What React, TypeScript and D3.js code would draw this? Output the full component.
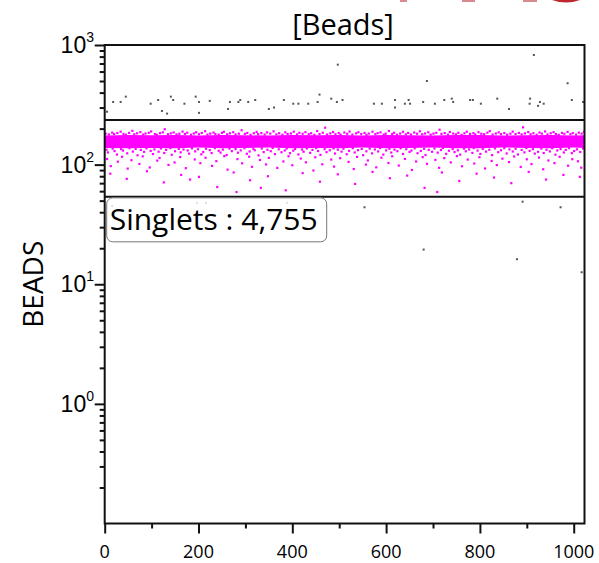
import React, { useEffect, useRef } from "react";
import * as d3 from "d3";

// plot frame in page pixels
const W = 599;
const H = 563;
const frame = { left: 104.7, right: 584.5, top: 45, bottom: 523.5 };

const xMajorTicks = [0, 200, 400, 600, 800, 1000];
const xMinorTicks = [100, 300, 500, 700, 900];
const yDecades = [0.1, 1, 10, 100, 1000];
const yLabelExp = [
  { v: 1, e: "0" },
  { v: 10, e: "1" },
  { v: 100, e: "2" },
  { v: 1000, e: "3" },
];

const title = "[Beads]";
const yTitle = "BEADS";
const gateName = "Singlets : 4,755";
const gateLow = 53.8;
const gateHigh = 236.6;

// dense core of the singlet band (read per x bin)
const coreX = [0, 50, 100, 150, 200, 250, 300, 350, 400, 450, 500, 550, 600, 650, 700, 750, 800, 850, 900, 950, 1000, 1023];
const coreTop = [175, 177, 176, 177, 175, 177, 176, 175, 177, 176, 177, 175, 177, 176, 175, 177, 177, 175, 176, 177, 175, 176];
const coreBottom = [138, 137, 138, 137, 139, 137, 138, 139, 137, 138, 137, 139, 137, 138, 139, 137, 137, 139, 138, 137, 139, 138];

// singlet events above the core
const singletsUpper: [number, number][] = [
  [2,181.3],[9,178.6],[16,185.2],[20,179.9],[27,183.7],[34,188.4],[40,180.5],[45,177.8],[52,184.1],[59,191.6],
  [63,179.2],[69,182.8],[76,186.9],[82,178.3],[87,181.9],[94,184.6],[99,189.3],[107,180.1],[111,177.4],[118,183.2],
  [124,186.1],[128,197.5],[135,179.6],[141,182.4],[147,185.7],[153,178.9],[159,181.1],[166,188.8],[171,180.7],
  [176,184.9],[184,177.6],[190,182.1],[195,186.4],[201,179.4],[207,183.9],[214,190.2],[219,178.1],[225,181.6],
  [232,185.3],[236,180.3],[243,177.9],[250,184.3],[254,188.0],[261,179.1],[267,182.6],[274,186.7],[279,178.7],
  [286,181.4],[292,193.8],[299,180.9],[304,184.0],[311,177.2],[318,182.9],[324,187.6],[327,179.5],[334,183.4],
  [341,178.4],[346,185.9],[353,181.7],[360,189.7],[366,179.0],[372,183.1],[379,177.5],[385,186.2],[390,180.6],
  [397,182.2],[403,188.6],[410,178.8],[415,184.5],[422,181.2],[428,186.8],[435,179.7],[440,183.0],[447,177.1],
  [453,190.9],[458,180.2],[465,184.8],[470,203.5],[474,178.5],[481,182.5],[487,187.2],[492,179.3],[499,183.6],
  [503,177.7],[511,185.6],[517,181.0],[522,189.1],[528,178.2],[536,182.7],[541,186.5],[547,180.0],[554,184.2],
  [558,177.3],[563,181.8],[571,188.2],[577,179.8],[582,183.3],[588,186.0],[595,178.0],[599,181.5],[606,191.0],
  [613,180.4],[617,184.7],[623,177.6],[630,182.0],[636,187.9],[642,179.1],[647,183.8],[653,178.6],[660,185.4],
  [666,181.3],[672,189.9],[677,179.4],[683,182.3],[690,186.3],[695,177.9],[701,181.7],[707,184.4],[714,195.8],
  [718,180.8],[725,183.5],[732,178.1],[736,187.4],[743,181.9],[749,179.0],[754,184.6],[761,177.4],[767,182.8],
  [772,188.5],[779,180.5],[786,183.2],[790,178.7],[797,186.6],[803,181.2],[809,179.6],[816,184.9],[821,190.4],
  [827,178.3],[834,182.1],[840,186.1],[845,179.9],[852,183.7],[858,177.8],[865,181.4],[870,188.7],[876,180.1],
  [883,184.1],[889,178.9],[892,205.0],[896,182.4],[903,187.0],[908,179.2],[914,183.0],[921,177.5],[927,185.5],
  [932,181.6],[939,189.4],[944,178.4],[951,182.9],[957,186.8],[962,180.2],[968,177.2],[975,184.0],[980,181.0],
  [987,187.7],[993,179.7],[998,183.4],[1005,178.0],[1011,185.1],[1017,181.7],[1022,188.3],
];

// singlet events just below the core
const singletsEdge: [number, number][] = [
  [4,133.2],[7,126.5],[17,136.1],[21,129.8],[26,121.4],[35,134.7],[39,131.1],[48,124.3],[53,137.2],[60,128.6],
  [66,135.4],[70,119.7],[77,132.5],[84,127.9],[89,136.8],[98,130.2],[103,122.6],[106,134.1],[115,128.3],[120,136.5],
  [127,125.1],[131,132.9],[140,137.6],[143,120.8],[150,129.4],[158,135.2],[162,126.7],[168,133.8],[177,131.3],
  [180,123.5],[186,136.9],[193,129.1],[199,134.4],[206,121.9],[210,127.6],[216,135.8],[224,132.2],[228,124.9],
  [235,137.4],[243,130.6],[247,126.1],[252,133.5],[260,120.3],[266,136.2],[271,129.7],[279,134.9],[284,125.8],
  [290,131.6],[298,137.1],[303,123.2],[309,128.8],[317,135.6],[320,131.9],[328,119.5],[335,136.7],[339,127.3],
  [347,133.1],[354,129.5],[358,137.8],[363,122.4],[371,134.3],[377,126.9],[384,131.4],[388,136.3],[395,124.6],
  [402,130.8],[406,135.1],[413,121.7],[421,133.6],[424,128.2],[431,136.4],[438,125.5],[443,132.7],[451,137.5],
  [455,129.9],[460,120.6],[469,134.6],[473,127.1],[480,131.8],[488,136.6],[491,123.8],[497,133.3],[505,128.5],
  [509,135.9],[516,122.1],[521,130.4],[529,137.3],[533,126.4],[540,132.1],[548,135.3],[551,119.9],[558,129.2],
  [565,136.1],[570,124.2],[576,133.9],[583,128.9],[587,137.7],[594,121.3],[600,131.5],[607,135.7],[611,126.2],
  [618,133.4],[624,129.6],[631,137.0],[636,122.8],[643,134.5],[650,127.7],[654,131.2],[661,136.9],[667,124.5],
  [674,130.1],[681,135.5],[684,120.4],[691,133.0],[698,128.1],[703,136.5],[710,125.9],[717,132.4],[721,137.9],
  [728,123.1],[734,130.7],[742,134.8],[746,127.4],[753,131.7],[758,121.2],[766,136.0],[770,129.3],[777,133.7],
  [784,125.3],[787,137.4],[795,131.0],[801,122.9],[806,135.4],[813,128.4],[820,133.2],[826,120.1],[832,136.8],
  [839,127.0],[845,131.9],[852,137.2],[857,124.0],[863,134.0],[870,128.7],[876,135.6],[881,121.6],[889,132.6],
  [895,126.6],[899,137.6],[906,130.3],[913,134.7],[917,123.6],[924,128.0],[931,136.2],[936,125.0],[942,133.1],
  [949,129.0],[954,137.0],[961,121.1],[965,131.3],[972,135.0],[979,126.3],[983,132.8],[990,137.5],[996,124.7],
  [1001,130.0],[1007,134.2],[1014,127.5],[1020,136.4],
];

// sparser singlet events further below
const singletsTail: [number, number][] = [
  [5,111.4],[13,97.2],[28,105.8],[37,116.3],[49,92.6],[57,108.9],[74,101.3],[81,117.2],[96,94.7],[112,108.1],
  [117,113.6],[136,99.5],[149,104.2],[161,115.7],[173,93.4],[192,110.5],[204,102.8],[215,114.1],[229,97.6],
  [238,106.9],[255,117.8],[262,90.8],[283,111.2],[293,102.6],[308,116.4],[314,95.9],[331,109.3],[344,100.4],
  [350,113.8],[368,93.9],[381,106.3],[392,117.5],[400,98.8],[418,112.4],[429,104.6],[445,89.3],[449,115.2],
  [464,100.7],[483,110.3],[489,96.3],[502,113.2],[520,105.4],[531,91.9],[538,116.1],[557,100.1],[561,108.4],
  [579,94.9],[590,114.3],[605,103.1],[613,117.4],[627,98.3],[640,111.6],[655,90.2],[664,106.2],[678,115.5],
  [687,101.6],[705,109.6],[713,94.1],[724,113.4],[738,104.4],[751,117.9],[762,96.9],[774,110.2],[788,102.2],
  [799,115.3],[811,92.8],[825,107.4],[836,99.1],[848,112.2],[862,105.1],[873,117.0],[887,95.6],[900,110.8],
  [910,101.0],[926,114.6],[935,91.5],[946,108.3],[959,102.9],[970,116.2],[988,97.9],[997,111.0],[1009,106.6],
  [1016,94.3],
  [12,84],[47,76],[90,88],[126,71],[163,82],[182,75],[201,79],[240,65],[275,86],[281,59],[310,74],[333,64],
  [348,80],[386,61],[422,85],[459,72],[497,83],[534,69],[571,87],[608,77],[645,81],[682,64],[709,59],[719,86],
  [756,73],[793,84],[830,78],[867,70],[904,87],[941,75],[978,82],[1013,79],
];

// events outside the gate
const outside: [number, number][] = [
  [5,277],[18,334],[34,334],[45,370],[98,323],[114,347],[122,281],[133,267],[141,370],[146,347],[170,323],
  [194,370],[201,334],[201,271],[224,341],[263,292],[267,334],[285,334],[289,347],[306,334],[321,347],
  [350,292],[361,300],[382,347],[402,323],[413,323],[434,323],[454,334],[458,385],[483,356],[497,685],
  [495,334],[507,347],[574,323],[591,323],[619,347],[619,300],[640,323],[648,347],[651,323],[679,334],
  [687,500],[704,323],[724,347],[740,356],[743,334],[779,347],[785,347],[802,323],[837,356],[862,292],
  [906,323],[907,356],[915,825],[924,310],[928,334],[936,323],[987,479],[996,347],[1020,334],
  [16,45],[197,48],[216,48],[389,48],[554,44],[891,49],[972,44],[680,19.5],[879,16.2],[1017,12.6],
];

export default function App() {
  const ref = useRef<SVGSVGElement>(null);

  useEffect(() => {
    const svg = d3.select(ref.current);
    svg.selectAll("*").remove();

    const x = d3.scaleLinear().domain([0, 1023]).range([frame.left, frame.right]);
    const y = d3.scaleLog().domain([0.1, 1000]).range([frame.bottom, frame.top]);

    svg.append("rect").attr("width", W).attr("height", H).attr("fill", "#fff");

    // cropped red heading fragments at the very top
    const red = svg.append("g");
    [[400, 7], [462, 13], [523, 14]].forEach(([rx, rw]) =>
      red.append("rect").attr("x", rx).attr("y", 0).attr("width", rw).attr("height", 2).attr("fill", "#d98a8f")
    );
    red.append("path").attr("d", "M552,0 Q566,5 580,0 Z").attr("fill", "#c0262d");

    svg.append("defs").append("clipPath").attr("id", "plotclip")
      .append("rect")
      .attr("x", frame.left).attr("y", frame.top)
      .attr("width", frame.right - frame.left).attr("height", frame.bottom - frame.top);

    const plot = svg.append("g").attr("clip-path", "url(#plotclip)");

    const core = d3.area<number>()
      .x((d) => x(d))
      .y0((d, i) => y(coreBottom[i]))
      .y1((d, i) => y(coreTop[i]));
    plot.append("path").attr("d", core(coreX)).attr("fill", "#ff00ff");

    const dot = 2.2;
    plot.append("g").selectAll("rect")
      .data([...singletsUpper, ...singletsEdge, ...singletsTail])
      .enter().append("rect")
      .attr("x", (d) => x(d[0]) - dot / 2)
      .attr("y", (d) => y(d[1]) - dot / 2)
      .attr("width", dot).attr("height", dot)
      .attr("fill", "#ff00ff");

    plot.append("g").selectAll("rect")
      .data(outside)
      .enter().append("rect")
      .attr("x", (d) => x(d[0]) - 1)
      .attr("y", (d) => y(d[1]) - 1)
      .attr("width", 2).attr("height", 2)
      .attr("fill", "#555");

    // gate
    [gateLow, gateHigh].forEach((g) =>
      svg.append("line")
        .attr("x1", frame.left).attr("x2", frame.right)
        .attr("y1", y(g)).attr("y2", y(g))
        .attr("stroke", "#111").attr("stroke-width", 2)
    );

    // gate label
    const lab = svg.append("g").attr("transform", `translate(${frame.left + 2},${y(gateLow) + 1})`);
    lab.append("rect")
      .attr("width", 220).attr("height", 44).attr("rx", 6)
      .attr("fill", "#fff").attr("fill-opacity", 0.8)
      .attr("stroke", "#777").attr("stroke-width", 1);
    lab.append("text")
      .attr("x", 3).attr("y", 32)
      .attr("font-family", "'Open Sans', sans-serif").attr("font-size", 30)
      .attr("fill", "#000")
      .text(gateName);

    // frame
    svg.append("rect")
      .attr("x", frame.left).attr("y", frame.top)
      .attr("width", frame.right - frame.left).attr("height", frame.bottom - frame.top)
      .attr("fill", "none").attr("stroke", "#111").attr("stroke-width", 2);

    // x axis
    const xAxisG = svg.append("g").attr("transform", `translate(0,${frame.bottom})`);
    xAxisG.call(d3.axisBottom(x).tickValues(xMajorTicks).tickSize(10).tickFormat(() => ""));
    xAxisG.call((g) => g.select(".domain").remove());
    const xMinorG = svg.append("g").attr("transform", `translate(0,${frame.bottom})`);
    xMinorG.call(d3.axisBottom(x).tickValues(xMinorTicks).tickSize(5).tickFormat(() => ""));
    xMinorG.call((g) => g.select(".domain").remove());
    svg.append("g").selectAll("text")
      .data(xMajorTicks)
      .enter().append("text")
      .attr("x", (d) => x(d)).attr("y", 558)
      .attr("text-anchor", "middle")
      .attr("font-family", "'Open Sans', sans-serif").attr("font-size", 18)
      .text((d) => String(d));

    // y axis
    const yMinor: number[] = [];
    yDecades.slice(0, -1).forEach((d) => {
      for (let k = 2; k <= 9; k++) yMinor.push(d * k);
    });
    const yAxisG = svg.append("g").attr("transform", `translate(${frame.left},0)`);
    yAxisG.call(d3.axisLeft(y).tickValues(yDecades.slice(1)).tickSize(10).tickFormat(() => ""));
    yAxisG.call((g) => g.select(".domain").remove());
    const yMinorG = svg.append("g").attr("transform", `translate(${frame.left},0)`);
    yMinorG.call(d3.axisLeft(y).tickValues(yMinor).tickSize(5).tickFormat(() => ""));
    yMinorG.call((g) => g.select(".domain").remove());
    svg.selectAll(".tick line").attr("stroke", "#111").attr("stroke-width", 2);

    const yl = svg.append("g").selectAll("text")
      .data(yLabelExp)
      .enter().append("text")
      .attr("x", 94).attr("y", (d) => y(d.v) + 8)
      .attr("text-anchor", "end")
      .attr("font-family", "'Liberation Sans', Arial, sans-serif").attr("font-size", 23);
    yl.append("tspan").text("10");
    yl.append("tspan").attr("font-size", 14).attr("dy", -11).text((d) => d.e);

    // titles
    svg.append("text")
      .attr("x", 343).attr("y", 35)
      .attr("text-anchor", "middle")
      .attr("font-family", "'Open Sans', sans-serif").attr("font-size", 29)
      .text(title);
    svg.append("text")
      .attr("transform", `translate(43,${(frame.top + frame.bottom) / 2})rotate(-90)`)
      .attr("text-anchor", "middle")
      .attr("font-family", "'Open Sans', sans-serif").attr("font-size", 28)
      .text(yTitle);
  }, []);

  return (
    <div style={{ position: "absolute", left: 0, top: 0 }}>
      <svg ref={ref} width={W} height={H} style={{ display: "block" }} />
    </div>
  );
}
